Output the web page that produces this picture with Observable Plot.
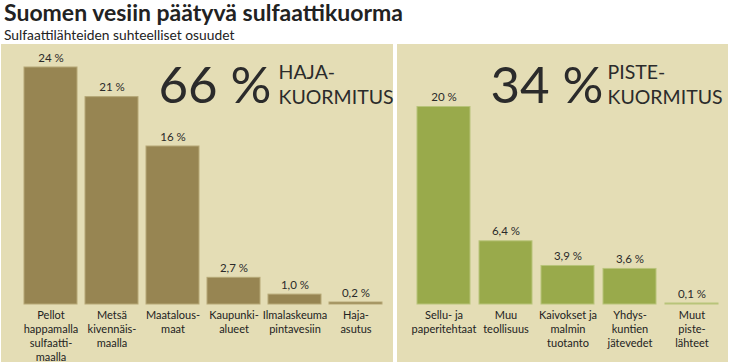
<!DOCTYPE html>
<html><head><meta charset="utf-8">
<script src="https://cdn.jsdelivr.net/npm/d3@7"></script>
<script src="https://cdn.jsdelivr.net/npm/@observablehq/plot@0.6"></script>
<style>
html,body{margin:0;padding:0;background:#fff;}
#wrap{position:relative;width:730px;height:364px;font-family:Lato,"Open Sans",sans-serif;color:#222;}
#title{position:absolute;left:4px;top:1px;font-size:23px;font-weight:700;line-height:23px;white-space:nowrap;}
#subtitle{position:absolute;left:4px;top:27px;font-size:13.8px;line-height:15px;white-space:nowrap;}
.panel{position:absolute;top:44px;height:318px;background:#e4ddb5;}
#left{left:1px;width:392px;}
#right{left:397px;width:331px;}
.panel svg{display:block;overflow:visible;}
</style></head>
<body>
<div id="wrap">
  <div id="title">Suomen vesiin päätyvä sulfaattikuorma</div>
  <div id="subtitle">Sulfaattilähteiden suhteelliset osuudet</div>
  <div class="panel" id="left"></div>
  <div class="panel" id="right"></div>
</div>
<script>
const leftCats = ["Pellot\nhappamalla\nsulfaatti-\nmaalla", "Metsä\nkivennäis-\nmaalla", "Maatalous-\nmaat", "Kaupunki-\nalueet", "Ilmalaskeuma\npintavesiin", "Haja-\nasutus"];
const leftVals = [24, 21, 16, 2.7, 1.0, 0.2];
const leftLabels = ["24 %", "21 %", "16 %", "2,7 %", "1,0 %", "0,2 %"];
const rightCats = ["Sellu- ja\npaperitehtaat", "Muu\nteollisuus", "Kaivokset ja\nmalmin\ntuotanto", "Yhdys-\nkuntien\njätevedet", "Muut\npiste-\nlähteet"];
const rightVals = [20, 6.4, 3.9, 3.6, 0.1];
const rightLabels = ["20 %", "6,4 %", "3,9 %", "3,6 %", "0,1 %"];
const leftTotal = "66 %", leftTotalName = ["HAJA-", "KUORMITUS"];
const rightTotal = "34 %", rightTotalName = ["PISTE-", "KUORMITUS"];

function panel(cats, vals, labels, total, name, opts) {
  const data = cats.map((c, i) => ({cat: c, v: vals[i], label: labels[i]}));
  return Plot.plot({
    width: opts.width, height: 318,
    marginLeft: opts.ml, marginRight: opts.mr, marginTop: 23, marginBottom: 58,
    style: {background: "transparent", fontFamily: "Lato, 'Open Sans', sans-serif", color: "#222", overflow: "visible"},
    x: {domain: cats, padding: opts.pad, paddingOuter: 0, label: null},
    y: {domain: [0, 24], axis: null},
    marks: [
      Plot.barY(data, {x: "cat", y: "v", fill: opts.color, stroke: opts.edge, strokeWidth: 1}),
      Plot.text(data, {x: "cat", y: "v", text: "label", lineAnchor: "bottom", dy: -6, fontSize: 11.5, fill: "#2a2a2a"}),
      Plot.axisX({tickSize: 0, tickPadding: 5, fontSize: 11, lineHeight: 1.25, color: "#222", label: null}),
      Plot.text([total], {frameAnchor: "top-left", text: d => d, textAnchor: "end", lineAnchor: "bottom", dx: opts.bigX, dy: 35, fontSize: 51, fill: "#2b2b2b"}),
      Plot.text([name[0]], {frameAnchor: "top-left", text: d => d, textAnchor: "start", lineAnchor: "bottom", dx: opts.nameX, dy: 11, fontSize: 19.5, fill: "#2b2b2b"}),
      Plot.text([name[1]], {frameAnchor: "top-left", text: d => d, textAnchor: "start", lineAnchor: "bottom", dx: opts.nameX, dy: 36, fontSize: 19.5, fill: "#2b2b2b"})
    ]
  });
}

document.getElementById("left").append(panel(leftCats, leftVals, leftLabels, leftTotal, leftTotalName,
  {width: 392, ml: 21, mr: 10, pad: 0.136, color: "#978552", edge: "#b6a876", bigX: 249, nameX: 256}));
document.getElementById("right").append(panel(rightCats, rightVals, rightLabels, rightTotal, rightTotalName,
  {width: 331, ml: 19, mr: 9, pad: 0.149, color: "#99aa4b", edge: "#b8c47a", bigX: 187, nameX: 191}));
</script>
</body></html>
